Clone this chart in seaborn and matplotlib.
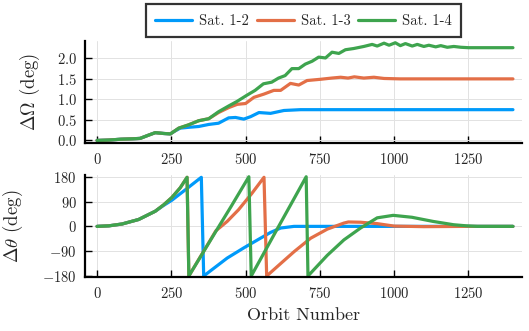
import pandas as pd
import matplotlib
matplotlib.use("Agg")
import matplotlib.pyplot as plt
from matplotlib.lines import Line2D
import seaborn as sns

sats = ["Sat. 1-2", "Sat. 1-3", "Sat. 1-4"]
colors = ["#009AFA", "#E36F47", "#3EA44E"]

# Delta RAAN (deg) vs orbit number
orb_raan_12 = [0, 40, 80, 120, 145, 170, 196, 224, 247, 260, 280, 308, 342, 376, 409, 443, 466,
               494, 517, 545, 584, 629, 685, 800, 1000, 1200, 1400]
raan_12 = [0.00, 0.01, 0.03, 0.04, 0.05, 0.12, 0.19, 0.17, 0.16, 0.22, 0.30, 0.32, 0.34, 0.39, 0.42,
           0.55, 0.56, 0.52, 0.58, 0.68, 0.66, 0.73, 0.75, 0.75, 0.75, 0.75, 0.75]

orb_raan_13 = [0, 40, 80, 120, 145, 170, 196, 224, 247, 275, 308, 342, 376, 409, 443, 472, 500,
               528, 562, 595, 618, 651, 679, 707, 752, 790, 820, 845, 866, 898, 932, 966, 1020,
               1200, 1400]
raan_13 = [0.00, 0.01, 0.03, 0.04, 0.05, 0.12, 0.19, 0.17, 0.16, 0.30, 0.38, 0.48, 0.53, 0.68, 0.80,
           0.88, 0.90, 1.05, 1.13, 1.22, 1.22, 1.39, 1.35, 1.46, 1.49, 1.52, 1.54, 1.52, 1.55, 1.52,
           1.54, 1.51, 1.50, 1.50, 1.50]

orb_raan_14 = [0, 40, 80, 120, 145, 170, 196, 224, 247, 275, 308, 342, 376, 409, 443, 471, 504,
               532, 560, 588, 611, 633, 656, 679, 701, 724, 746, 769, 791, 814, 836, 864, 898, 926,
               943, 966, 983, 1004, 1021, 1038, 1061, 1078, 1100, 1117, 1140, 1157, 1179, 1201,
               1225, 1250, 1300, 1400]
raan_14 = [0.00, 0.01, 0.03, 0.04, 0.05, 0.12, 0.19, 0.17, 0.16, 0.30, 0.38, 0.48, 0.53, 0.70, 0.84,
           0.95, 1.10, 1.22, 1.38, 1.42, 1.52, 1.58, 1.75, 1.75, 1.86, 1.93, 2.03, 2.01, 2.15, 2.12,
           2.21, 2.24, 2.29, 2.34, 2.30, 2.37, 2.32, 2.38, 2.31, 2.36, 2.30, 2.34, 2.29, 2.32, 2.28,
           2.31, 2.27, 2.29, 2.27, 2.26, 2.26, 2.26]

# Delta argument of latitude (deg) vs orbit number
orb_th_12 = [0, 40, 84, 140, 196, 224, 252, 300, 351, 359, 438, 494, 550, 584, 618, 663, 800,
             1000, 1400]
th_12 = [0, 2, 8.6, 25, 55, 76, 95, 135, 178, -180, -115, -78, -43, -22, -6, 0, 0, 0, 0]

orb_th_13 = [0, 40, 84, 140, 196, 224, 252, 280, 303, 309, 400, 438, 476, 520, 562, 571, 620,
             663, 719, 775, 831, 846, 887, 943, 1000, 1100, 1250, 1400]
th_13 = [0, 2, 8.6, 25, 55, 78, 105, 140, 178, -180, -16, 18, 60, 118, 178, -180, -133, -92, -43,
         -10, 12, 16, 15, 10, 1, -1, 0, 0]

orb_th_14 = [0, 40, 84, 140, 196, 224, 252, 280, 303, 309, 400, 450, 511, 519, 600, 650, 704,
             710, 775, 831, 887, 943, 997, 1060, 1131, 1200, 1243, 1280, 1400]
th_14 = [0, 2, 8.6, 25, 55, 78, 105, 140, 178, -180, -18, 70, 180, -180, -22, 75, 180, -180,
         -105, -49, -6, 31, 40, 33, 18, 6, 2, 0, 0]

raan_df = pd.concat([
    pd.DataFrame({"orbit": orb_raan_12, "val": raan_12, "sat": sats[0]}),
    pd.DataFrame({"orbit": orb_raan_13, "val": raan_13, "sat": sats[1]}),
    pd.DataFrame({"orbit": orb_raan_14, "val": raan_14, "sat": sats[2]}),
])
th_df = pd.concat([
    pd.DataFrame({"orbit": orb_th_12, "val": th_12, "sat": sats[0]}),
    pd.DataFrame({"orbit": orb_th_13, "val": th_13, "sat": sats[1]}),
    pd.DataFrame({"orbit": orb_th_14, "val": th_14, "sat": sats[2]}),
])

sns.set_style("whitegrid")
plt.rcParams["font.family"] = ["cmr10", "DejaVu Serif"]
plt.rcParams["mathtext.fontset"] = "cm"
plt.rcParams["axes.formatter.use_mathtext"] = True
plt.rcParams["axes.unicode_minus"] = True

fig = plt.figure(figsize=(5.29, 3.31), dpi=100)
ax1 = fig.add_axes([0.161, 0.567, 0.8255, 0.310])
ax2 = fig.add_axes([0.161, 0.162, 0.8255, 0.309])

pal = dict(zip(sats, colors))
sns.lineplot(data=raan_df, x="orbit", y="val", hue="sat", palette=pal, estimator=None,
             linewidth=2.3, legend=False, ax=ax1)
sns.lineplot(data=th_df, x="orbit", y="val", hue="sat", palette=pal, estimator=None,
             linewidth=2.3, legend=False, ax=ax2)

for ax in (ax1, ax2):
    ax.set_xlim(-40, 1430)
    ax.set_xticks([0, 250, 500, 750, 1000, 1250])
    ax.grid(True, color="#e2e2e2", linewidth=0.7)
    for s in ("top", "right"):
        ax.spines[s].set_visible(False)
    for s in ("left", "bottom"):
        ax.spines[s].set_color("black")
        ax.spines[s].set_linewidth(1.6)
    ax.tick_params(direction="in", length=5, width=1, color="black", labelsize=10.5, pad=6,
                   left=True, bottom=True)
    ax.set_xlabel("")

ax1.set_ylim(-0.07, 2.43)
ax1.set_yticks([0, 0.5, 1.0, 1.5, 2.0])
ax1.set_ylabel(r"$\Delta\Omega$ (deg)", fontsize=13.5)
ax1.yaxis.set_label_coords(-0.098, 0.5)

ax2.set_ylim(-185, 186)
ax2.set_yticks([-180, -90, 0, 90, 180])
ax2.set_ylabel(r"$\Delta\theta$ (deg)", fontsize=13.5)
ax2.yaxis.set_label_coords(-0.137, 0.5)
ax2.set_xlabel("Orbit Number", fontsize=13)
ax2.xaxis.set_label_coords(0.5, -0.30)

handles = [Line2D([], [], color=c, linewidth=2.3) for c in colors]
leg = ax1.legend(handles, sats, loc="lower center", bbox_to_anchor=(0.5, 1.035), ncol=3,
                 frameon=True, fancybox=False, edgecolor="black", fontsize=10.5,
                 handlelength=2.55, handletextpad=0.45, columnspacing=0.55,
                 borderpad=0.65, borderaxespad=0)
leg.get_frame().set_linewidth(1.6)

plt.savefig("out.png", dpi=100)
